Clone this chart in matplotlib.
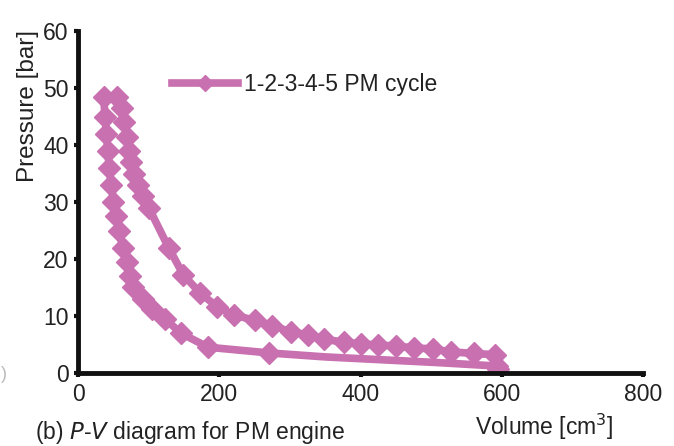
import matplotlib
matplotlib.use("Agg")
import matplotlib.pyplot as plt
from matplotlib.lines import Line2D

plt.rcParams['font.family'] = ['Liberation Sans', 'DejaVu Sans']

# Compression branch (lower curve), right to left
comp_v = [593, 510, 430, 350, 270, 184, 145, 123, 105, 92, 78, 73, 69, 63, 58, 54, 50, 47, 44, 42, 40, 38, 36]
comp_p = [1.2, 1.8, 2.3, 2.8, 3.5, 4.5, 7.0, 9.5, 11.2, 13.0, 15.0, 17.0, 19.5, 22.0, 25.0, 27.5, 30.0, 33.0, 36.0, 39.0, 42.0, 45.0, 48.5]
# Expansion branch (upper curve), left to right
exp_v = [55, 62, 65, 69, 72, 75, 79, 85, 92, 100, 128, 149, 173, 197, 220, 250, 275, 301, 325, 348, 376, 400, 424, 450, 475, 502, 528, 560, 590, 594]
exp_p = [48.5, 46.5, 44.0, 41.5, 39.0, 37.0, 35.0, 33.0, 31.0, 29.0, 22.0, 17.2, 14.0, 11.6, 10.2, 9.2, 8.3, 7.2, 6.7, 5.9, 5.4, 5.1, 4.9, 4.7, 4.4, 4.2, 3.7, 3.4, 3.2, 0.6]

x_ticks = [0, 200, 400, 600, 800]
y_ticks = [0, 10, 20, 30, 40, 50, 60]

color = '#c870b0'
fs = 16.5

fig = plt.figure(figsize=(6.74, 4.46), dpi=100)
ax = fig.add_axes([0.116, 0.164, 0.838, 0.766])

v = comp_v + exp_v + [comp_v[0]]
p = comp_p + exp_p + [comp_p[0]]
# markers everywhere except the sparse right part of the compression line
mark_idx = [0] + list(range(4, len(v) - 1))
ax.plot(v, p, color=color, lw=5.5, marker='D', ms=11, mec=color, mfc=color,
        markevery=mark_idx, solid_joinstyle='round')

ax.set_xlim(0, 800)
ax.set_ylim(0, 60)
ax.set_xticks(x_ticks)
ax.set_yticks(y_ticks)
ax.tick_params(labelsize=fs, length=3, width=3, color='#111111', labelcolor='#222222', pad=4)
for s in ['top', 'right']:
    ax.spines[s].set_visible(False)
for s in ['left', 'bottom']:
    ax.spines[s].set_linewidth(3.5)
    ax.spines[s].set_color('#111111')

proxy = Line2D([], [], color=color, lw=5.5, marker='D', ms=8, mec=color, mfc=color)
leg = ax.legend([proxy], ['1-2-3-4-5 PM cycle'], loc='center left', bbox_to_anchor=(0.166, 0.845),
                frameon=False, fontsize=fs, handlelength=2.9, handletextpad=0.25,
                borderpad=0, borderaxespad=0)
for t in leg.get_texts():
    t.set_color('#222222')

fig.text(0.042, 0.762, 'Pressure [bar]', rotation=90, fontsize=17.5, color='#222222',
         ha='center', va='center')
fig.text(0.705, 0.043, 'Volume [cm$^3$]', fontsize=fs, color='#222222', ha='left', va='center')
fig.text(0.052, 0.031, '(b) $\\mathit{P}$-$\\mathit{V}$ diagram for PM engine', fontsize=fs,
         color='#222222', ha='left', va='center')
fig.text(0.001, 0.16, ')', fontsize=13, color='#bbbbbb', ha='left', va='center')

fig.savefig('out.png', dpi=100)
